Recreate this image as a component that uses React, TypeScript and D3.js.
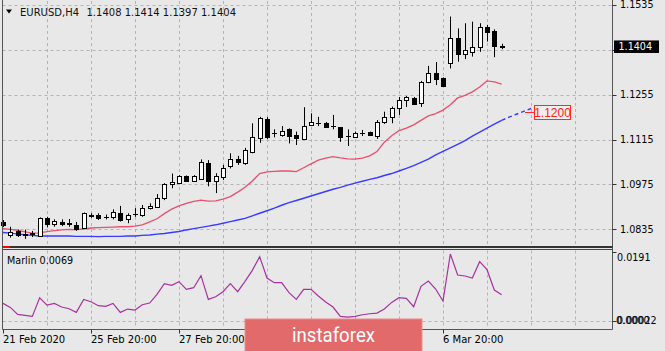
import React from 'react';
import * as d3 from 'd3';

const W = 665;
const H = 351;

const opens = [1.0859,1.0816,1.0830,1.0820,1.0821,1.0813,1.0869,1.0852,1.0859,1.0856,
1.0848,1.0839,1.0878,1.0881,1.0874,1.0874,1.0885,1.0866,1.0882,1.0880,
1.0900,1.0906,1.0932,1.0975,1.0979,1.1001,1.0985,1.0992,1.1043,1.0987,
1.0999,1.1033,1.1054,1.1042,1.1077,1.1119,1.1178,1.1135,1.1129,1.1147,
1.1129,1.1116,1.1161,1.1166,1.1168,1.1158,1.1153,1.1126,1.1124,1.1135,
1.1138,1.1126,1.1171,1.1186,1.1215,1.1237,1.1245,1.1228,1.1296,1.1323,
1.1307,1.1353,1.1431,1.1381,1.1389,1.1403,1.1465,1.1455,1.1408];
const highs = [1.0864,1.0843,1.0834,1.0834,1.0830,1.0872,1.0874,1.0866,1.0866,1.0867,
1.0858,1.0887,1.0885,1.0885,1.0881,1.0897,1.0908,1.0885,1.0901,1.0911,
1.0916,1.0945,1.0979,1.1009,1.1004,1.1003,1.1004,1.1053,1.1051,1.1010,
1.1036,1.1072,1.1064,1.1089,1.1166,1.1186,1.1185,1.1147,1.1157,1.1150,
1.1140,1.1216,1.1197,1.1186,1.1170,1.1192,1.1154,1.1147,1.1140,1.1145,
1.1140,1.1176,1.1202,1.1218,1.1248,1.1251,1.1248,1.1298,1.1345,1.1357,
1.1309,1.1499,1.1462,1.1478,1.1483,1.1478,1.1473,1.1459,1.1414];
const lows = [1.0842,1.0809,1.0811,1.0805,1.0811,1.0811,1.0841,1.0843,1.0845,1.0843,
1.0830,1.0838,1.0871,1.0864,1.0866,1.0866,1.0859,1.0854,1.0874,1.0874,
1.0897,1.0904,1.0926,1.0963,1.0976,1.0984,1.0983,1.0989,1.0969,1.0948,
1.0989,1.1025,1.1036,1.1036,1.1072,1.1105,1.1117,1.1122,1.1124,1.1103,
1.1098,1.1114,1.1157,1.1157,1.1153,1.1147,1.1108,1.1095,1.1122,1.1126,
1.1128,1.1117,1.1164,1.1166,1.1192,1.1217,1.1224,1.1217,1.1291,1.1285,
1.1281,1.1337,1.1358,1.1366,1.1374,1.1389,1.1421,1.1372,1.1397];
const closes = [1.0848,1.0827,1.0816,1.0817,1.0822,1.0869,1.0850,1.0861,1.0851,1.0852,
1.0836,1.0885,1.0879,1.0869,1.0873,1.0890,1.0864,1.0880,1.0883,1.0901,
1.0908,1.0934,1.0975,1.0984,1.1001,1.0986,1.1001,1.1045,1.0986,1.1001,
1.1025,1.1053,1.1044,1.1082,1.1122,1.1181,1.1124,1.1136,1.1143,1.1126,
1.1119,1.1158,1.1171,1.1167,1.1155,1.1157,1.1122,1.1127,1.1135,1.1136,
1.1130,1.1171,1.1187,1.1213,1.1238,1.1247,1.1227,1.1295,1.1324,1.1303,
1.1282,1.1431,1.1381,1.1395,1.1403,1.1465,1.1452,1.1407,1.1404];

const redMA = [1.0837,1.0835,1.0832,1.0827,1.0823,1.0824,1.0828,1.0831,1.0833,1.0835,
1.0834,1.0836,1.0839,1.0840,1.0841,1.0842,1.0843,1.0843,1.0845,1.0849,
1.0858,1.0868,1.0884,1.0898,1.0908,1.0916,1.0922,1.0926,1.0923,1.0924,
1.0929,1.0937,1.0951,1.0966,1.0986,1.1009,1.1014,1.1016,1.1017,1.1017,
1.1015,1.1027,1.1039,1.1051,1.1057,1.1062,1.1058,1.1055,1.1054,1.1057,
1.1064,1.1078,1.1107,1.1127,1.1143,1.1151,1.1161,1.1175,1.1189,1.1196,
1.1207,1.1224,1.1245,1.1253,1.1264,1.1279,1.1298,1.1295,1.1288];

const blueMA = [1.0825,1.0823,1.0820,1.0818,1.0816,1.0814,1.0814,1.0814,1.0814,1.0814,
1.0813,1.0813,1.0813,1.0812,1.0813,1.0813,1.0813,1.0814,1.0814,1.0816,
1.0817,1.0820,1.0822,1.0825,1.0828,1.0833,1.0837,1.0841,1.0845,1.0849,
1.0854,1.0859,1.0864,1.0869,1.0877,1.0885,1.0893,1.0901,1.0910,1.0918,
1.0925,1.0932,1.0939,1.0946,1.0953,1.0960,1.0966,1.0973,1.0979,1.0985,
1.0991,1.0996,1.1003,1.1009,1.1017,1.1025,1.1034,1.1044,1.1054,1.1067,
1.1078,1.1089,1.1100,1.1112,1.1126,1.1138,1.1151,1.1163,1.1175,
1.1185,1.1194,1.1203,1.1212];

const marlin = [0.0043,0.0031,0.0010,0.0007,0.0004,0.0060,0.0038,0.0043,0.0032,0.0027,
0.0016,0.0055,0.0048,0.0036,0.0034,0.0043,0.0016,0.0026,0.0023,0.0039,
0.0044,0.0070,0.0102,0.0097,0.0108,0.0085,0.0090,0.0126,0.0055,0.0063,
0.0078,0.0102,0.0078,0.0109,0.0142,0.0183,0.0119,0.0105,0.0105,0.0075,
0.0055,0.0085,0.0085,0.0065,0.0047,0.0032,0.0004,0.0002,0.0004,0.0009,
0.0012,0.0014,0.0026,0.0046,0.0060,0.0058,0.0033,0.0094,0.0110,0.0086,
0.0050,0.0191,0.0128,0.0125,0.0119,0.0168,0.0144,0.0083,0.0069];

const priceTicks = [1.0835, 1.0975, 1.1115, 1.1255, 1.1395, 1.1535];
// price labels that the chart shows (1.1395 sits under the current-price box)
const priceLabelTicks = [1.0835, 1.0975, 1.1115, 1.1255, 1.1535];
const dateTickIdx = [0, 12, 24, 36, 48, 60];
// labels visible in the chart (the others are under the logo)
const dateLabelIdx = [0, 12, 24, 60];
const dateLabels = ['21 Feb 2020', '25 Feb 20:00', '27 Feb 20:00', '6 Mar 20:00'];
const gridIdx = [6, 12, 18, 24, 30, 36, 42, 48, 54, 60, 66, 72, 78];
const headerSymbol = 'EURUSD,H4';
const headerOHLC = '1.1408 1.1414 1.1397 1.1404';
const lastPrice = 1.1404;
const targetLevel = 1.12;
const marlinMax = 0.0191;
const marlinMin = 0.00022;
const marlinName = 'Marlin';

const FONT = '"DejaVu Sans", Tahoma, sans-serif';

export default function App() {
  const x = d3.scaleLinear().domain([0, 60]).range([3, 443]);
  const y = d3.scaleLinear().domain([1.0835, 1.1535]).range([229.3, 5]);
  const ym = d3.scaleLinear().domain([marlinMin, marlinMax]).range([317, 254]);

  const left = 2.5, right = 612.5, mainBottom = 247, subTop = 249.5, subBottom = 329.5;

  const lineGen = d3.line<number>().x((d, i) => x(i)).y(d => y(d));
  const blueSolid = lineGen(blueMA.slice(0, 69)) || '';
  const blueDash = d3.line<number>().x((d, i) => x(i + 68)).y(d => y(d))(blueMA.slice(68)) || '';
  const redPath = lineGen(redMA) || '';
  const marlinPath = d3.line<number>().x((d, i) => x(i)).y(d => ym(d))(marlin) || '';

  const gridColor = '#b4b4b4';
  const borderColor = '#555';

  return (
    <svg width={W} height={H} style={{ position: 'fixed', left: 0, top: 0, display: 'block' }}
      fontFamily={FONT}>
      <rect x={0} y={0} width={W} height={H} fill="#e8e8e8" />
      {priceTicks.map((p, k) => (
        <line key={'hg' + k} x1={left} x2={right} y1={Math.round(y(p)) + 0.5} y2={Math.round(y(p)) + 0.5}
          stroke={gridColor} strokeDasharray="3,3" strokeWidth={1} />
      ))}
      {gridIdx.filter(i => x(i) < right).map((i, k) => (
        <g key={'vg' + k}>
          <line x1={Math.round(x(i)) + 0.5} x2={Math.round(x(i)) + 0.5} y1={1} y2={mainBottom - 1}
            stroke={gridColor} strokeDasharray="3,3" />
          <line x1={Math.round(x(i)) + 0.5} x2={Math.round(x(i)) + 0.5} y1={subTop + 1} y2={subBottom - 1}
            stroke={gridColor} strokeDasharray="3,3" />
        </g>
      ))}
      <line x1={left} x2={right} y1={321.5} y2={321.5} stroke={gridColor} strokeDasharray="3,3" />

      <path d={redPath} fill="none" stroke="#e8506e" strokeWidth={1.3} />
      <path d={blueSolid} fill="none" stroke="#3a3aff" strokeWidth={1.4} />
      <path d={blueDash} fill="none" stroke="#3a3aff" strokeWidth={1.4} strokeDasharray="4,3" />

      {opens.map((o, i) => {
        const c = closes[i];
        const cx = Math.round(x(i));
        const yo = Math.round(y(o));
        const yc = Math.round(y(c));
        const top = Math.min(yo, yc);
        const bot = Math.max(yo, yc);
        const bull = c >= o;
        return (
          <g key={'c' + i}>
            <line x1={cx + 0.5} x2={cx + 0.5} y1={y(highs[i])} y2={y(lows[i])} stroke="#000" strokeWidth={1} />
            {bot - top < 1 ? (
              <line x1={cx - 2} x2={cx + 3} y1={top + 0.5} y2={top + 0.5} stroke="#000" />
            ) : (
              <rect x={cx - 2 + 0.5} y={top + 0.5} width={4} height={bot - top}
                fill={bull ? '#fff' : '#000'} stroke="#000" strokeWidth={1} />
            )}
          </g>
        );
      })}

      <path d={marlinPath} fill="none" stroke="#a8329e" strokeWidth={1.2} />

      <line x1={left} x2={left} y1={0} y2={subBottom} stroke={borderColor} />
      <line x1={right} x2={right} y1={0} y2={subBottom} stroke={borderColor} />
      <line x1={left} x2={right} y1={mainBottom} y2={mainBottom} stroke="#333" strokeWidth={2} />
      <line x1={left} x2={right} y1={subTop} y2={subTop} stroke="#444" strokeWidth={1} />
      <line x1={left} x2={right} y1={subBottom} y2={subBottom} stroke={borderColor} />
      <line x1={3} x2={10} y1={mainBottom} y2={mainBottom} stroke="#ff0000" strokeWidth={2} />

      {priceTicks.map((p, k) => (
        <line key={'ptk' + k} x1={right} x2={right + 4} y1={Math.round(y(p)) + 0.5} y2={Math.round(y(p)) + 0.5} stroke="#333" />
      ))}
      {priceLabelTicks.map((p, k) => (
        <text key={'pt' + k} x={620} y={y(p)} dy="0.36em" fontSize={9.6} fill="#000">{p.toFixed(4)}</text>
      ))}
      <rect x={614} y={y(lastPrice) - 6.5} width={45} height={12.5} fill="#000" />
      <text x={618.5} y={y(lastPrice)} dy="0.36em" fontSize={9.6} fill="#fff">{lastPrice.toFixed(4)}</text>

      <line x1={525} x2={534.5} y1={Math.round(y(targetLevel)) + 0.5} y2={Math.round(y(targetLevel)) + 0.5} stroke="#ff2a2a" />
      <rect x={534.5} y={Math.round(y(targetLevel)) - 6.5} width={36} height={14} fill="#f3eded" stroke="#ff2a2a" />
      <text x={552.5} y={y(targetLevel)} dy="0.37em" fontSize={12} textAnchor="middle"
        fill="#ff2020" fontFamily='"Liberation Sans", Arial, sans-serif'>{targetLevel.toFixed(4)}</text>

      <line x1={right} x2={right + 4} y1={ym(marlinMax) - 1.5} y2={ym(marlinMax) - 1.5} stroke="#333" />
      <text x={617} y={ym(marlinMax) + 3.3} dy="0.36em" fontSize={9.6} fill="#000">{marlinMax.toFixed(4)}</text>
      <line x1={right} x2={right + 4} y1={321.5} y2={321.5} stroke="#333" />
      <text x={616} y={ym(marlinMin) + 4} dy="0.36em" fontSize={9.6} fill="#000">{(0).toFixed(4)}</text>
      <text x={617} y={ym(marlinMin) + 4} dy="0.36em" fontSize={9.6} fill="#000">{marlinMin.toFixed(5)}</text>
      <text x={7} y={264} fontSize={9.6} fill="#000">{marlinName + ' ' + marlin[marlin.length - 1].toFixed(4)}</text>

      {dateTickIdx.map((i, k) => (
        <line key={'dtk' + k} x1={Math.round(x(i)) + 0.5} x2={Math.round(x(i)) + 0.5} y1={subBottom} y2={subBottom + 4} stroke="#333" />
      ))}
      {dateLabelIdx.map((i, k) => (
        <text key={'dt' + k} x={Math.round(x(i))} y={343} fontSize={10} fill="#000">{dateLabels[k]}</text>
      ))}

      <path d="M6,9.5 L12,9.5 L9,13.5 Z" fill="#000" />
      <text x={20} y={15.5} fontSize={10} fill="#111">{headerSymbol}</text>
      <text x={86.5} y={15.5} fontSize={10} fill="#111">{headerOHLC}</text>

      <rect x={245} y={319} width={177} height={33} fill="#e36a6a" stroke="#ec8c8c" strokeWidth={1} />
      <text x={333.5} y={341.5} fontSize={20} textAnchor="middle" fill="#fff"
        fontFamily='Roboto, "Open Sans", sans-serif' textLength={83} lengthAdjust="spacingAndGlyphs">instaforex</text>
    </svg>
  );
}
